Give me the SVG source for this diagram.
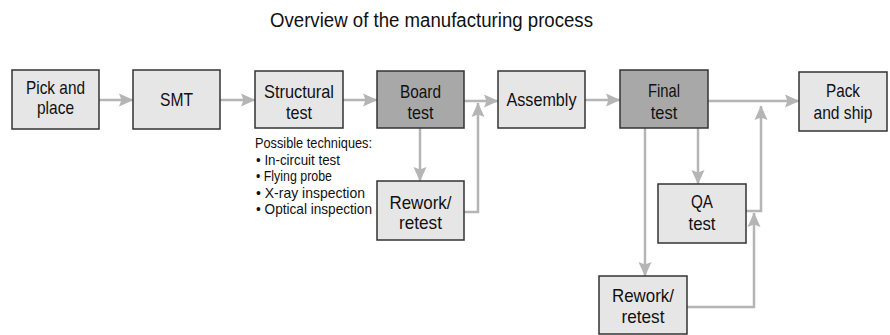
<svg xmlns="http://www.w3.org/2000/svg" width="890" height="335" viewBox="0 0 890 335">
<style>
text{font-family:"Liberation Sans Narrow","Liberation Sans",Arial,sans-serif;fill:#111}
.lbl{font-size:18.5px;text-anchor:middle}
.note{font-size:15px}
.title{font-size:19.5px;text-anchor:middle}
.box{fill:#e6e6e6;stroke:#333;stroke-width:1.5}
.dark{fill:#a8a8a8}
.con{fill:none;stroke:#b5b5b5;stroke-width:2.5;marker-end:url(#ah)}
</style>
<defs>
<marker id="ah" markerUnits="userSpaceOnUse" markerWidth="15" markerHeight="14" refX="14" refY="7" orient="auto" viewBox="0 0 15 14">
<path d="M0,0.5 L14.5,7 L0,13.5 L2.5,7 Z" fill="#b5b5b5"/>
</marker>
</defs>
<text class="title" x="431.5" y="27" textLength="323" lengthAdjust="spacingAndGlyphs">Overview of the manufacturing process</text>
<g id="connectors">
<path class="con" d="M99,100 H133"/>
<path class="con" d="M220,100 H255"/>
<path class="con" d="M343,100 H377"/>
<path class="con" d="M464,101 H498"/>
<path class="con" d="M420,128 V181"/>
<path class="con" d="M464,212 H478 V103"/>
<path class="con" d="M585,100 H620"/>
<path class="con" d="M708,101 H799"/>
<path class="con" d="M698,128 V184"/>
<path class="con" d="M645,128 V276"/>
<path class="con" d="M746,211 H761 V106"/>
<path class="con" d="M687,307 H754 V213"/>
</g>
<g id="pick">
<rect class="box" x="12" y="70" width="87" height="59"/>
<text class="lbl" x="55.5" y="93.5" textLength="59" lengthAdjust="spacingAndGlyphs">Pick and</text>
<text class="lbl" x="55.5" y="113.5" textLength="37" lengthAdjust="spacingAndGlyphs">place</text>
</g>
<g id="smt">
<rect class="box" x="133" y="70" width="87" height="59"/>
<text class="lbl" x="176.5" y="106" textLength="33" lengthAdjust="spacingAndGlyphs">SMT</text>
</g>
<g id="structural">
<rect class="box" x="255" y="71" width="88" height="57"/>
<text class="lbl" x="299" y="98" textLength="70" lengthAdjust="spacingAndGlyphs">Structural</text>
<text class="lbl" x="299" y="119" textLength="26" lengthAdjust="spacingAndGlyphs">test</text>
</g>
<g id="techniques">
<text class="note" x="255" y="148" textLength="117" lengthAdjust="spacingAndGlyphs">Possible techniques:</text>
<text class="note" x="256" y="164.5" textLength="84" lengthAdjust="spacingAndGlyphs">• In-circuit test</text>
<text class="note" x="256" y="181" textLength="76" lengthAdjust="spacingAndGlyphs">• Flying probe</text>
<text class="note" x="256" y="197.5" textLength="109" lengthAdjust="spacingAndGlyphs">• X-ray inspection</text>
<text class="note" x="256" y="214" textLength="116" lengthAdjust="spacingAndGlyphs">• Optical inspection</text>
</g>
<g id="board">
<rect class="box dark" x="377" y="71" width="87" height="57"/>
<text class="lbl" x="420.5" y="98" textLength="41" lengthAdjust="spacingAndGlyphs">Board</text>
<text class="lbl" x="420.5" y="119" textLength="26" lengthAdjust="spacingAndGlyphs">test</text>
</g>
<g id="rework1">
<rect class="box" x="377" y="181" width="87" height="59"/>
<text class="lbl" x="420.5" y="208.5" textLength="62" lengthAdjust="spacingAndGlyphs">Rework/</text>
<text class="lbl" x="420.5" y="229" textLength="43" lengthAdjust="spacingAndGlyphs">retest</text>
</g>
<g id="assembly">
<rect class="box" x="498" y="71" width="87" height="57"/>
<text class="lbl" x="541.5" y="106" textLength="70" lengthAdjust="spacingAndGlyphs">Assembly</text>
</g>
<g id="final">
<rect class="box dark" x="620" y="70" width="88" height="58"/>
<text class="lbl" x="664" y="97" textLength="32" lengthAdjust="spacingAndGlyphs">Final</text>
<text class="lbl" x="664" y="118.5" textLength="26.5" lengthAdjust="spacingAndGlyphs">test</text>
</g>
<g id="pack">
<rect class="box" x="799" y="72" width="88" height="59"/>
<text class="lbl" x="843" y="97" textLength="34" lengthAdjust="spacingAndGlyphs">Pack</text>
<text class="lbl" x="843" y="118.5" textLength="59" lengthAdjust="spacingAndGlyphs">and ship</text>
</g>
<g id="qa">
<rect class="box" x="658" y="184" width="88" height="59"/>
<text class="lbl" x="702" y="207.5" textLength="22" lengthAdjust="spacingAndGlyphs">QA</text>
<text class="lbl" x="702" y="230" textLength="27" lengthAdjust="spacingAndGlyphs">test</text>
</g>
<g id="rework2">
<rect class="box" x="599" y="276" width="88" height="58"/>
<text class="lbl" x="643" y="302" textLength="62" lengthAdjust="spacingAndGlyphs">Rework/</text>
<text class="lbl" x="643" y="323" textLength="43" lengthAdjust="spacingAndGlyphs">retest</text>
</g>
</svg>
